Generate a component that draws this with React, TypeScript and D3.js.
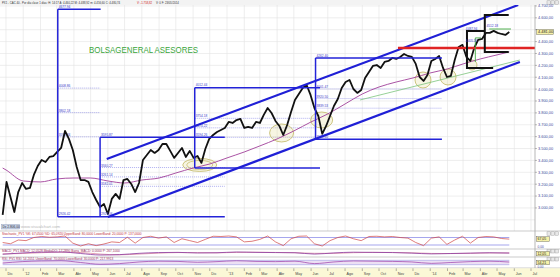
import React from 'react';
import * as d3 from 'd3';

// ---------- data ----------
const FIRST_WEEK = '2011-11-25';
const LAST_DAY = '2014-05-23';
const X_START = '2011-12-01';
const X_END = '2014-07-01';

// weekly closes (one per week from FIRST_WEEK)
const closes = [2941, 3219, 3092, 2966, 3134, 3210, 3160, 3168, 3278, 3353, 3404, 3387, 3429, 3437, 3471, 3505,
  3648, 3581, 3488, 3345, 3235, 3235, 3219, 3134, 3067, 3008, 3033, 2949, 3076, 3118, 3076, 3235, 3244, 3202, 3134,
  3210, 3404, 3446, 3488, 3463, 3488, 3538, 3538, 3480, 3421, 3463, 3505, 3429, 3480, 3421, 3437, 3379, 3496, 3581,
  3614, 3639, 3656, 3673, 3724, 3715, 3740, 3749, 3673, 3682, 3673, 3724, 3715, 3783, 3841, 3799, 3732, 3690, 3614,
  3698, 3808, 3909, 3959, 4010, 4035, 3951, 3841, 3774, 3623, 3690, 3774, 3858, 3917, 4010, 4060, 4077, 4001, 3968,
  3993, 4094, 4144, 4195, 4203, 4178, 4229, 4237, 4262, 4254, 4271, 4296, 4279, 4271, 4212, 4102, 4069, 4119, 4237,
  4254, 4279, 4178, 4102, 4111, 4245, 4355, 4372, 4271, 4237, 4346, 4414, 4422, 4473, 4473, 4490, 4473, 4464, 4456,
  4481];

const maDates = ['2011-11-25', '2011-12-01', '2012-01-01', '2012-02-01', '2012-03-01', '2012-04-01', '2012-05-01',
  '2012-06-01', '2012-07-01', '2012-08-01', '2012-09-01', '2012-10-01', '2012-11-01', '2012-12-01', '2013-01-01',
  '2013-02-01', '2013-03-01', '2013-04-01', '2013-05-01', '2013-06-01', '2013-07-01', '2013-08-01', '2013-09-01',
  '2013-10-01', '2013-11-01', '2013-12-01', '2014-01-01', '2014-02-01', '2014-03-01', '2014-04-01', '2014-05-01',
  '2014-05-23'];
const maValues = [3336, 3320, 3227, 3219, 3244, 3252, 3252, 3227, 3210, 3235, 3252, 3294, 3336, 3370, 3421, 3471,
  3522, 3581, 3648, 3724, 3791, 3875, 3959, 4018, 4060, 4094, 4136, 4170, 4212, 4254, 4288, 4313];

// stochastic %K every 2 weeks
const stochK = [40, 30, 60, 55, 80, 88, 82, 85, 92, 35, 12, 30, 15, 28, 45, 40, 82, 35, 80, 90, 75, 85, 40, 70, 55,
  40, 65, 90, 88, 92, 85, 45, 50, 65, 92, 45, 15, 70, 90, 92, 30, 12, 55, 80, 92, 70, 55, 88, 90, 85, 88, 80, 75, 40,
  15, 75, 85, 25, 60, 90, 35, 80, 88, 85, 72, 67];
// MACD / signal / RSI every 5 weeks
const macdLine = [-20, 15, 35, 40, 0, -40, -30, 5, 25, 30, 15, 20, 40, 30, 25, 20, -15, 15, 35, 30, 25, 10, -10, 0, 10, 20, 12];
const macdSignal = [-10, 0, 22, 35, 25, -15, -35, -15, 10, 25, 22, 18, 30, 34, 28, 22, 5, 5, 22, 30, 28, 18, 2, -2, 5, 15, 15];
const rsiValues = [45, 58, 64, 66, 50, 34, 40, 55, 62, 60, 52, 58, 66, 60, 58, 62, 40, 55, 64, 62, 60, 55, 42, 50, 58, 62, 54];

// 4.500 is hidden behind the last-price box in the reference
const priceTicks = [3000, 3100, 3200, 3300, 3400, 3500, 3600, 3700, 3800, 3900, 4000, 4100, 4200, 4300, 4400, 4600, 4700];
const gridLevels = [2900, 3000, 3100, 3200, 3300, 3400, 3500, 3600, 3700, 3800, 3900, 4000, 4100, 4200, 4300, 4400, 4500, 4600, 4700];
const monthNames = ["'", 'Feb', 'Mar', 'Abr', 'May', 'Jun', 'Jul', 'Ago', 'Sep', 'Oct', 'Nov', 'Dic'];

const headerParts = [
  'PX1 - CAC 40 - Por día clase 1 días: H: 14:17 A: 4.460,22 M: 4.488,92 m: 4.456,60 C: 4.480,74',
  'V: -1.758,82',
  'V: 0 F: 23/05/2014',
];

// annotations (dates / prices)
const boxSolids: [string, string, number][] = [
  ['2012-03-03', '2012-05-19', 4672],
  ['2012-03-03', '2012-12-28', 2926.42],
  ['2012-05-18', '2012-12-28', 3595.87],
  ['2012-11-04', '2013-06-17', 4012.44],
  ['2012-11-04', '2013-06-17', 3336.0],
  ['2013-06-09', '2014-01-22', 4262.4],
  ['2013-06-09', '2014-01-22', 3578.6],
];
const boxVerticals: [string, number, number][] = [
  ['2012-03-03', 4672, 2926.42],
  ['2012-05-18', 3595.87, 2926.42],
  ['2012-11-04', 4012.44, 3336.0],
  ['2013-06-09', 4262.4, 3578.6],
];
const boxLabels: [string, number, string][] = [
  ['2012-03-03', 4672, '4677.94'],
  ['2012-03-03', 2926.42, '2926.42'],
  ['2012-05-18', 3595.87, '3595.87'],
  ['2012-05-18', 2926.42, '2923.06'],
  ['2012-11-04', 4012.44, '4012.44'],
  ['2013-06-09', 4262.4, '4262.40'],
  ['2013-06-09', 3578.6, '3578.60'],
];
const fibLines: [string, string, number][] = [
  ['2012-03-03', '2012-05-18', 4008.86],
  ['2012-03-03', '2012-05-18', 3802.18],
  ['2012-03-03', '2012-05-18', 3598.34],
  ['2012-05-18', '2012-12-28', 3340.27],
  ['2012-05-18', '2012-12-28', 3261.14],
  ['2012-05-18', '2012-12-28', 3182.01],
  ['2012-11-04', '2013-06-09', 3754.18],
  ['2012-11-04', '2013-06-09', 3674.22],
  ['2012-11-04', '2013-06-09', 3594.26],
  ['2013-06-09', '2014-01-22', 4001.47],
  ['2013-06-09', '2014-01-22', 3920.5],
  ['2013-06-09', '2014-01-22', 3839.53],
];
const channelLines: [string, number, string, number][] = [
  ['2012-05-30', 3412, '2014-06-08', 4708],
  ['2012-06-01', 2924, '2014-06-11', 4229],
];
const redLevel: [string, string, number] = ['2013-11-04', '2014-07-08', 4346];
const greenTrend: [string, number, string, number] = ['2013-08-28', 3909, '2014-06-11', 4245];
const blackBrackets: [string, number][][] = [
  [['2014-05-22', 4624], ['2014-04-09', 4624], ['2014-04-09', 4313], ['2014-05-22', 4313]],
  [['2014-04-09', 4490], ['2014-03-08', 4490], ['2014-03-08', 4178], ['2014-04-24', 4178]],
];
const greenMarks: [string, number][][] = [
  [['2014-03-23', 4229], ['2014-03-23', 4431], ['2014-04-02', 4431]],
  [['2014-04-17', 4506], ['2014-05-26', 4506]],
];
const smallLabels: [string, number, string][] = [
  ['2014-03-06', 4500, '4487.94'],
  ['2014-04-12', 4520, '4512.18'],
  ['2014-03-06', 4398, '4405.16'],
];
// [date, price, rx, ry, double]
const ellipses: [string, number, number, number, boolean][] = [
  ['2012-11-13', 3362, 17, 6.5, true],
  ['2013-04-09', 3631, 12, 9, false],
  ['2013-06-20', 3740, 11, 8, false],
  ['2013-12-19', 4077, 8, 8, false],
  ['2014-02-02', 4102, 8, 8, false],
  ['2014-03-17', 4203, 5, 5, false],
];

const FONT = 'Liberation Sans, Arial, sans-serif';

export default function App() {
  const parse = d3.timeParse('%Y-%m-%d');
  const P = (s: string) => parse(s) as Date;
  const x = d3.scaleTime().domain([P(X_START), P(X_END)]).range([6, 531]);
  const y = d3.scaleLinear().domain([2806, 4708]).range([231, 5]);
  const yS = d3.scaleLinear().domain([0, 100]).range([247.5, 235]);
  const yM = d3.scaleLinear().domain([-80, 80]).range([256.5, 250.5]);
  const yR = d3.scaleLinear().domain([0, 100]).range([268, 257]);
  const fmtEs = d3.formatLocale({ decimal: ',', thousands: '.', grouping: [3], currency: ['', ''] }).format(',.2f');

  const start = P(FIRST_WEEK);
  const wk = (i: number) => d3.timeWeek.offset(start, i);

  const priceLine = d3.line<number>().x((_, i) => x(wk(i))).y(d => y(d))(closes) || '';
  const maLine = d3.line<number>().curve(d3.curveMonotoneX).x((_, i) => x(P(maDates[i]))).y(d => y(d))(maValues) || '';
  const stochLine = d3.line<number>().x((_, i) => x(wk(2 * i))).y(d => yS(d))(stochK) || '';
  const macdL = d3.line<number>().curve(d3.curveMonotoneX).x((_, i) => x(wk(5 * i))).y(d => yM(d))(macdLine) || '';
  const macdS = d3.line<number>().curve(d3.curveMonotoneX).x((_, i) => x(wk(5 * i))).y(d => yM(d))(macdSignal) || '';
  const rsiL = d3.line<number>().curve(d3.curveMonotoneX).x((_, i) => x(wk(5 * i))).y(d => yR(d))(rsiValues) || '';

  const x0 = x(start);
  const x1 = x(P(LAST_DAY));
  const months = d3.timeMonth.range(P('2011-12-01'), P('2014-07-02'));
  const monthLabel = (d: Date) => (d.getMonth() === 0 ? "'" + String(d.getFullYear()).slice(2) : monthNames[d.getMonth()]);

  const poly = (pts: [string, number][]) => d3.line<[string, number]>().x(p => x(P(p[0]))).y(p => y(p[1]))(pts) || '';
  const lastClose = closes[closes.length - 1];

  const icons = (yy: number) => (
    <g>
      {[0, 1, 2].map(k => (
        <rect key={k} x={547 + k * 4} y={yy} width={3.4} height={3.4} fill="#e8e8e8" stroke="#999" strokeWidth={0.4} />
      ))}
    </g>
  );

  return (
    <svg width={560} height={277} style={{ position: 'fixed', left: 0, top: 0, background: '#fff' }} fontFamily={FONT}>
      <defs>
        <clipPath id="mainClip"><rect x={0} y={5} width={535} height={226} /></clipPath>
      </defs>
      <rect x={0} y={0} width={560} height={277} fill="#fff" />
      {/* header */}
      <rect x={0} y={0} width={560} height={5} fill="#f3f3f3" />
      <text x={2} y={3.8} fontSize={2.8} fill="#333">{headerParts[0]}</text>
      <text x={137} y={3.8} fontSize={2.8} fill="#d02020">{headerParts[1]}</text>
      <text x={156} y={3.8} fontSize={2.8} fill="#333">{headerParts[2]}</text>
      {icons(0.8)}

      {/* grid */}
      <g stroke="#e3e3e3" strokeWidth={0.6}>
        {months.map((m, i) => <line key={'v' + i} x1={x(m)} x2={x(m)} y1={5} y2={231} />)}
        {gridLevels.map((v, i) => <line key={'h' + i} x1={0} x2={535} y1={y(v)} y2={y(v)} />)}
      </g>

      <g clipPath="url(#mainClip)">
        {fibLines.map((f, i) => (
          <line key={'f' + i} x1={x(P(f[0]))} x2={x(P(f[1]))} y1={y(f[2])} y2={y(f[2])} stroke="#7b7be6" strokeWidth={0.6} strokeDasharray="1,1" />
        ))}
        {fibLines.map((f, i) => (
          <text key={'fl' + i} x={x(P(f[0])) + 1} y={y(f[2]) - 1} fontSize={3.2} fill="#3a3ac8">{f[2].toFixed(2)}</text>
        ))}
        {ellipses.map((e, i) => (
          <g key={'e' + i}>
            <ellipse cx={x(P(e[0]))} cy={y(e[1])} rx={e[2]} ry={e[3]} fill="rgba(228,218,150,0.28)" stroke="#c2b864" strokeWidth={0.8} />
            {e[4] && <ellipse cx={x(P(e[0]))} cy={y(e[1])} rx={e[2] - 4} ry={e[3] - 2} fill="none" stroke="#c2b864" strokeWidth={0.7} />}
          </g>
        ))}
        <path d={maLine} fill="none" stroke="#a0409a" strokeWidth={0.9} />
        <line x1={x(P(greenTrend[0]))} y1={y(greenTrend[1])} x2={x(P(greenTrend[2]))} y2={y(greenTrend[3])} stroke="#7cc47c" strokeWidth={0.8} />
        <path d={priceLine} fill="none" stroke="#111" strokeWidth={1.8} strokeLinejoin="round" />
        {boxSolids.map((b, i) => (
          <line key={'b' + i} x1={x(P(b[0]))} x2={x(P(b[1]))} y1={y(b[2])} y2={y(b[2])} stroke="#2323d8" strokeWidth={1.5} />
        ))}
        {boxVerticals.map((b, i) => (
          <line key={'bv' + i} x1={x(P(b[0]))} x2={x(P(b[0]))} y1={y(b[1])} y2={y(b[2])} stroke="#2323d8" strokeWidth={1.5} />
        ))}
        {boxLabels.map((b, i) => (
          <text key={'bl' + i} x={x(P(b[0])) + 1} y={y(b[1]) - 1.2} fontSize={3.2} fill="#3a3ac8">{b[2]}</text>
        ))}
        {channelLines.map((c, i) => (
          <line key={'c' + i} x1={x(P(c[0]))} y1={y(c[1])} x2={x(P(c[2]))} y2={y(c[3])} stroke="#1f1fd6" strokeWidth={2.2} />
        ))}
        <line x1={x(P(redLevel[0]))} x2={x(P(redLevel[1]))} y1={y(redLevel[2])} y2={y(redLevel[2])} stroke="#e02424" strokeWidth={2.4} />
        {blackBrackets.map((b, i) => (
          <path key={'k' + i} d={poly(b)} fill="none" stroke="#111" strokeWidth={2} />
        ))}
        {greenMarks.map((g, i) => (
          <path key={'g' + i} d={poly(g)} fill="none" stroke="#3fa83f" strokeWidth={0.9} />
        ))}
        {smallLabels.map((s, i) => (
          <text key={'s' + i} x={x(P(s[0]))} y={y(s[1])} fontSize={3.2} fill="#3a3ac8">{s[2]}</text>
        ))}
      </g>

      <text x={89} y={53} fontSize={8.6} fill="#3aa53a" textLength={109} lengthAdjust="spacingAndGlyphs">BOLSAGENERAL ASESORES</text>

      <rect x={1.5} y={224.5} width={18} height={4.5} fill="#c9d3e6" stroke="#8796b8" strokeWidth={0.4} />
      <text x={2.5} y={228} fontSize={3.2} fill="#334">Dx 2.806,00</text>
      <text x={21} y={228.3} fontSize={4.2} fill="#b8b8b8">www.visualchart.com</text>

      {/* right axis */}
      <line x1={535} x2={535} y1={5} y2={268} stroke="#9a9a9a" strokeWidth={0.7} />
      {gridLevels.filter(v => v >= 3000).map((v, i) => (
        <line key={'tk' + i} x1={535} x2={537} y1={y(v)} y2={y(v)} stroke="#777" strokeWidth={0.5} />
      ))}
      {priceTicks.map((v, i) => (
        <text key={'t' + i} x={538} y={y(v) + 1.4} fontSize={3.9} fill="#3b4a9c">{fmtEs(v)}</text>
      ))}
      <rect x={536.5} y={y(lastClose) - 2.6} width={17} height={5.2} fill="#f6f1a8" stroke="#555" strokeWidth={0.4} />
      <text x={538} y={y(lastClose) + 1.4} fontSize={3.9} fill="#222">{fmtEs(lastClose)}</text>

      {[231, 249, 257, 268].map((yy, i) => (
        <line key={'sep' + i} x1={0} x2={560} y1={yy} y2={yy} stroke="#a8a8a8" strokeWidth={0.6} />
      ))}

      {/* stochastic */}
      <text x={2} y={235} fontSize={3.2} fill="#c03040">Stochastic_PV1 %K: 67,0500 %D: 65,0920 UpperBand: 80,0000 LowerBand: 20,0000 P: 137,0000</text>
      <line x1={x0} x2={x1} y1={yS(80)} y2={yS(80)} stroke="#6a6ae0" strokeWidth={0.6} />
      <line x1={x0} x2={x1} y1={yS(20)} y2={yS(20)} stroke="#6a6ae0" strokeWidth={0.6} />
      <path d={stochLine} fill="none" stroke="#d04545" strokeWidth={0.7} />
      {icons(231.8)}
      <rect x={536.5} y={yS(stochK[stochK.length - 1]) - 2.4} width={13} height={4.8} fill="#f6f1a8" stroke="#555" strokeWidth={0.4} />
      <text x={537.5} y={yS(stochK[stochK.length - 1]) + 1.3} fontSize={3.5} fill="#222">67,05</text>
      <text x={537.5} y={yS(0) + 0.5} fontSize={3.2} fill="#3b4a9c">0,00</text>

      {/* MACD */}
      <text x={2} y={252.3} fontSize={3.2} fill="#a03060">MACD_PV1 MACD: 12,0528 MediaDO: 17,2890 Barra_MACD: 0,0000 P: 267,1000</text>
      <path d={macdS} fill="none" stroke="#d06080" strokeWidth={0.6} />
      <path d={macdL} fill="none" stroke="#8a3aa0" strokeWidth={0.8} />
      {icons(249.6)}
      <rect x={536.5} y={251.3} width={13} height={4.6} fill="#f6f1a8" stroke="#555" strokeWidth={0.4} />
      <text x={537.5} y={254.8} fontSize={3.5} fill="#222">12,05</text>

      {/* RSI */}
      <text x={2} y={260.2} fontSize={3.2} fill="#a03060">RSI_PV1 RSI: 54,2051 UpperBand: 70,0000 LowerBand: 30,0000 P: 217,9913</text>
      <rect x={x0} width={x1 - x0} y={yR(70)} height={yR(30) - yR(70)} fill="#ece0f4" />
      <line x1={x0} x2={x1} y1={yR(70)} y2={yR(70)} stroke="#8a8ae0" strokeWidth={0.5} />
      <line x1={x0} x2={x1} y1={yR(30)} y2={yR(30)} stroke="#8a8ae0" strokeWidth={0.5} />
      <path d={rsiL} fill="none" stroke="#9a3aa8" strokeWidth={0.7} />
      {icons(257.6)}
      <rect x={536.5} y={260.2} width={13} height={4.6} fill="#f6f1a8" stroke="#555" strokeWidth={0.4} />
      <text x={537.5} y={263.7} fontSize={3.5} fill="#222">54,21</text>
      <text x={537.5} y={267.6} fontSize={3} fill="#3b4a9c">0,00</text>

      {/* time axis */}
      <rect x={0} y={268.3} width={560} height={8.7} fill="#fbf8d6" />
      {months.map((m, i) => (
        <g key={'m' + i}>
          <line x1={x(m)} x2={x(m)} y1={268.3} y2={271} stroke="#666" strokeWidth={0.5} />
          <text x={x(m) + 1.5} y={274.5} fontSize={3.6} fill="#444">{monthLabel(m)}</text>
        </g>
      ))}
    </svg>
  );
}
